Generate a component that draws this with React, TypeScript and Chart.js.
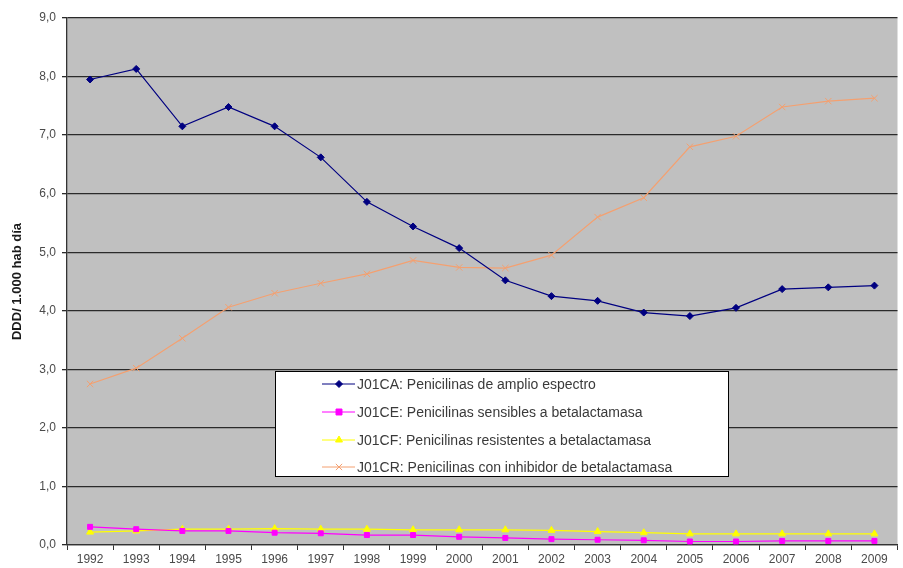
import React, { useEffect, useRef } from "react";
import { Chart, registerables } from "chart.js";

Chart.register(...registerables);

const years = ["1992", "1993", "1994", "1995", "1996", "1997", "1998", "1999", "2000", "2001", "2002", "2003", "2004", "2005", "2006", "2007", "2008", "2009"];
const j01ca = [7.95, 8.13, 7.15, 7.48, 7.15, 6.62, 5.86, 5.44, 5.07, 4.52, 4.25, 4.17, 3.97, 3.91, 4.05, 4.37, 4.4, 4.43];
const j01ce = [0.31, 0.27, 0.24, 0.24, 0.21, 0.2, 0.17, 0.17, 0.14, 0.12, 0.1, 0.09, 0.08, 0.06, 0.06, 0.07, 0.07, 0.07];
const j01cf = [0.22, 0.24, 0.27, 0.27, 0.28, 0.27, 0.27, 0.26, 0.26, 0.26, 0.25, 0.23, 0.21, 0.19, 0.19, 0.19, 0.19, 0.19];
const j01cr = [2.75, 3.02, 3.53, 4.06, 4.3, 4.47, 4.63, 4.86, 4.74, 4.73, 4.95, 5.6, 5.93, 6.8, 6.98, 7.48, 7.58, 7.63];
const seriesLabels = [
  "J01CA: Penicilinas de amplio espectro",
  "J01CE: Penicilinas sensibles a betalactamasa",
  "J01CF: Penicilinas resistentes a betalactamasa",
  "J01CR: Penicilinas con inhibidor de betalactamasa",
];
const yTitle = "DDD/ 1.000 hab día";

const FONT = "'Liberation Sans', Arial, sans-serif";

const bgPlugin = {
  id: "plotBg",
  beforeDraw(chart: any) {
    const { ctx, chartArea } = chart;
    ctx.save();
    ctx.fillStyle = "#c0c0c0";
    ctx.fillRect(chartArea.left, chartArea.top, chartArea.right - chartArea.left, chartArea.bottom - chartArea.top);
    ctx.restore();
  },
};

function drawMarker(ctx: CanvasRenderingContext2D, style: string, r: number, x: number, y: number) {
  ctx.beginPath();
  if (style === "rectRot") {
    ctx.moveTo(x, y - r);
    ctx.lineTo(x + r, y);
    ctx.lineTo(x, y + r);
    ctx.lineTo(x - r, y);
    ctx.closePath();
    ctx.fill();
    ctx.stroke();
  } else if (style === "rect") {
    const s = r * 0.85;
    ctx.rect(x - s, y - s, 2 * s, 2 * s);
    ctx.fill();
    ctx.stroke();
  } else if (style === "triangle") {
    ctx.moveTo(x, y - r);
    ctx.lineTo(x + r * 0.87, y + r * 0.5);
    ctx.lineTo(x - r * 0.87, y + r * 0.5);
    ctx.closePath();
    ctx.fill();
    ctx.stroke();
  } else if (style === "crossRot") {
    const s = r * 0.7;
    ctx.moveTo(x - s, y - s);
    ctx.lineTo(x + s, y + s);
    ctx.moveTo(x + s, y - s);
    ctx.lineTo(x - s, y + s);
    ctx.stroke();
  }
}

const legendPlugin = {
  id: "boxLegend",
  afterDatasetsDraw(chart: any) {
    const { ctx } = chart;
    const x = 275, y = 371, w = 453, h = 105;
    ctx.save();
    ctx.fillStyle = "#ffffff";
    ctx.fillRect(x, y, w, h);
    ctx.strokeStyle = "#000000";
    ctx.lineWidth = 1;
    ctx.strokeRect(x + 0.5, y + 0.5, w, h);
    const rows = [384, 412, 440, 467];
    chart.data.datasets.forEach((ds: any, i: number) => {
      const cy = rows[i];
      ctx.strokeStyle = ds.borderColor;
      ctx.lineWidth = 1;
      ctx.beginPath();
      ctx.moveTo(322, cy);
      ctx.lineTo(355, cy);
      ctx.stroke();
      ctx.fillStyle = ds.pointBackgroundColor;
      ctx.strokeStyle = ds.pointBorderColor;
      ctx.lineWidth = ds.pointBorderWidth ?? 1;
      drawMarker(ctx, ds.pointStyle, ds.pointRadius, 339, cy);
      ctx.fillStyle = "#3a3a3a";
      ctx.font = `14px ${FONT}`;
      ctx.textBaseline = "middle";
      ctx.textAlign = "left";
      ctx.fillText(ds.label, 357, cy + 1);
    });
    ctx.restore();
  },
};

export default function App() {
  const ref = useRef<HTMLCanvasElement>(null);
  useEffect(() => {
    document.body.style.margin = "0";
    const canvas = ref.current!;
    const colors = ["#000080", "#ff00ff", "#ffff00", "#f4a070"];
    const styles = ["rectRot", "rect", "triangle", "crossRot"];
    const radii = [3.5, 3.5, 4, 4.5];
    const data = [j01ca, j01ce, j01cf, j01cr];
    const chart = new Chart(canvas, {
      type: "line",
      data: {
        labels: years,
        datasets: data.map((d, i) => ({
          label: seriesLabels[i],
          data: d,
          borderColor: colors[i],
          backgroundColor: colors[i],
          pointBackgroundColor: colors[i],
          pointBorderColor: colors[i],
          pointStyle: styles[i] as any,
          pointRadius: radii[i],
          pointBorderWidth: 1,
          borderWidth: 1.2,
          tension: 0,
          fill: false,
        })),
      },
      options: {
        animation: false,
        responsive: false,
        devicePixelRatio: 1,
        layout: { padding: { left: 0, top: 18, right: 5, bottom: 0 } },
        plugins: {
          legend: { display: false },
          tooltip: { enabled: false },
        },
        scales: {
          x: {
            type: "category",
            offset: true,
            grid: {
              offset: true,
              drawOnChartArea: false,
              drawTicks: true,
              tickLength: 5,
              color: "#333333",
              lineWidth: 1,
            },
            border: { color: "#333333", width: 1.3 },
            ticks: {
              color: "#4a4a4a",
              font: { family: FONT, size: 12 },
              padding: 2,
              maxRotation: 0,
              autoSkip: false,
            },
            afterFit(scale: any) {
              scale.height = 23;
            },
          },
          y: {
            min: 0,
            max: 9,
            grid: {
              color: "#2a2a2a",
              lineWidth: 1.3,
              drawTicks: true,
              tickLength: 5,
            },
            border: { color: "#333333", width: 1.3 },
            ticks: {
              stepSize: 1,
              color: "#4a4a4a",
              font: { family: FONT, size: 12 },
              padding: 6,
              callback: (v: any) => Number(v).toFixed(1).replace(".", ","),
            },
            title: {
              display: true,
              text: yTitle,
              color: "#1a1a1a",
              font: { family: FONT, size: 13, weight: "bold" },
              padding: { top: 10, bottom: 0 },
            },
            afterFit(scale: any) {
              scale.width = 67;
            },
          },
        },
      },
      plugins: [bgPlugin, legendPlugin],
    });
    return () => chart.destroy();
  }, []);
  return (
    <div style={{ width: 903, height: 568, background: "#fff" }}>
      <canvas ref={ref} width={903} height={568} />
    </div>
  );
}
